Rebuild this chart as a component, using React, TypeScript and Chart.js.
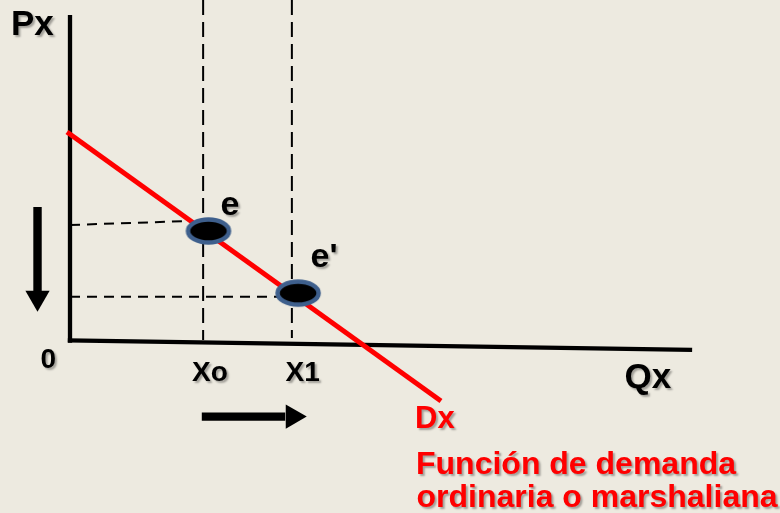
import React, { useEffect, useRef } from "react";
import { Chart, registerables } from "chart.js";

Chart.register(...registerables);

// ---- data (Qx in quantity units, Px in price units) ----
const PX_AXIS_Q = [0, 0];
const PX_AXIS_P = [14.13, -0.12];
const QX_AXIS_Q = [-0.05, 14.02];
const QX_AXIS_P = [-0.02, -0.43];

const DEMAND_Q = [-0.068, 8.36];
const DEMAND_P = [9.04, -2.65];

const Q_TICKS = [3, 5]; // Xo, X1
const Q_TICK_TOP = 14.78;
const Q_TICK_BOTTOM = [0, 0.09];

const E_GUIDE_Q = [0, 2.66];
const E_GUIDE_P = [5.0, 5.17];
const E1_GUIDE_Q = [0, 4.69];
const E1_GUIDE_P = [1.88, 1.88];

const EQ_Q = [3.12, 5.14]; // e, e'
const EQ_P = [4.74, 2.04];

const DOWN_ARROW_Q = -0.732;
const DOWN_ARROW_P = [5.78, 2.1];
const DOWN_HEAD_P = 1.84;
const RIGHT_ARROW_P = -3.33;
const RIGHT_ARROW_Q = [2.97, 4.85];
const RIGHT_HEAD_Q = 5.02;

const AXIS_TITLES = ["Px", "Qx"];
const Q_TICK_LABELS = ["0", "Xo", "X1"];
const POINT_LABELS = ["e", "e'"];
const CURVE_LABELS = ["Dx", "Función de demanda", "ordinaria o marshaliana"];

const BG = "#EDEAE0";
const FONT = "'Liberation Sans', Arial, sans-serif";

function makeEllipse(): HTMLCanvasElement {
  const c = document.createElement("canvas");
  c.width = 50;
  c.height = 32;
  const g = c.getContext("2d")!;
  g.beginPath();
  g.ellipse(25, 16, 20.5, 11.5, 0, 0, Math.PI * 2);
  g.fillStyle = "#000000";
  g.fill();
  g.lineWidth = 4.5;
  g.strokeStyle = "#3E5F8C";
  g.stroke();
  return c;
}

const pts = (qs: number[], ps: number[]) => qs.map((q, i) => ({ x: q, y: ps[i] }));

export default function App() {
  const ref = useRef<HTMLCanvasElement>(null);

  useEffect(() => {
    document.body.style.margin = "0";
    const ellipse = makeEllipse();

    const line = (data: any[], color: string, width: number, dash: number[] = [], order = 5) => ({
      type: "scatter" as const,
      data,
      showLine: true,
      borderColor: color,
      borderWidth: width,
      borderDash: dash,
      borderCapStyle: "butt" as const,
      pointRadius: 0,
      pointHoverRadius: 0,
      fill: false,
      order,
      clip: false as any,
    });

    const textPlugin = {
      id: "texts",
      beforeDraw(chart: any) {
        const ctx = chart.ctx;
        ctx.save();
        ctx.fillStyle = BG;
        ctx.fillRect(0, 0, chart.width, chart.height);
        ctx.restore();
      },
      afterDatasetsDraw(chart: any) {
        const ctx = chart.ctx;
        const draw = (t: string, x: number, y: number, size: number, color: string) => {
          ctx.save();
          ctx.font = `bold ${size}px ${FONT}`;
          ctx.fillStyle = color;
          ctx.textAlign = "left";
          ctx.textBaseline = "alphabetic";
          ctx.shadowColor = "rgba(0,0,0,0.32)";
          ctx.shadowOffsetX = 2;
          ctx.shadowOffsetY = 2;
          ctx.shadowBlur = 2;
          ctx.fillText(t, x, y);
          ctx.restore();
        };
        draw(AXIS_TITLES[0], 11, 35, 35, "#000");
        draw(AXIS_TITLES[1], 624.5, 388, 35, "#000");
        draw(Q_TICK_LABELS[0], 40.5, 368.3, 28, "#000");
        draw(Q_TICK_LABELS[1], 192, 380.7, 28, "#000");
        draw(Q_TICK_LABELS[2], 285.5, 380.7, 28, "#000");
        draw(POINT_LABELS[0], 220.5, 215, 34, "#000");
        draw(POINT_LABELS[1], 310.5, 267, 34, "#000");
        draw(CURVE_LABELS[0], 415, 427.5, 31, "#FF0000");
        draw(CURVE_LABELS[1], 416, 473.5, 32, "#FF0000");
        draw(CURVE_LABELS[2], 416.5, 506.5, 32, "#FF0000");
      },
    };

    const datasets: any[] = [
      // dashed guides
      line([{ x: Q_TICKS[0], y: Q_TICK_TOP }, { x: Q_TICKS[0], y: Q_TICK_BOTTOM[0] }], "#000", 2, [15, 7], 9),
      line([{ x: Q_TICKS[1], y: Q_TICK_TOP }, { x: Q_TICKS[1], y: Q_TICK_BOTTOM[1] }], "#000", 2, [15, 7], 9),
      line(pts(E_GUIDE_Q, E_GUIDE_P), "#000", 2, [10, 7], 9),
      line(pts(E1_GUIDE_Q, E1_GUIDE_P), "#000", 2, [10, 7], 9),
      // axes
      line(pts(PX_AXIS_Q, PX_AXIS_P), "#000", 4.3, [], 8),
      line(pts(QX_AXIS_Q, QX_AXIS_P), "#000", 4.3, [], 8),
      // demand curve
      line(pts(DEMAND_Q, DEMAND_P), "#FF0000", 5, [], 4),
      // arrows
      line([{ x: DOWN_ARROW_Q, y: DOWN_ARROW_P[0] }, { x: DOWN_ARROW_Q, y: DOWN_ARROW_P[1] }], "#000", 8.4, [], 3),
      line([{ x: RIGHT_ARROW_Q[0], y: RIGHT_ARROW_P }, { x: RIGHT_ARROW_Q[1], y: RIGHT_ARROW_P }], "#000", 8.4, [], 3),
      {
        type: "scatter",
        data: [{ x: DOWN_ARROW_Q, y: DOWN_HEAD_P }],
        pointStyle: "triangle",
        pointRadius: 14,
        pointRotation: 180,
        pointBackgroundColor: "#000",
        pointBorderWidth: 0,
        pointBorderColor: "#000",
        order: 2,
        clip: false,
      },
      {
        type: "scatter",
        data: [{ x: RIGHT_HEAD_Q, y: RIGHT_ARROW_P }],
        pointStyle: "triangle",
        pointRadius: 14,
        pointRotation: 90,
        pointBackgroundColor: "#000",
        pointBorderWidth: 0,
        pointBorderColor: "#000",
        order: 2,
        clip: false,
      },
      // equilibrium points
      {
        type: "scatter",
        data: pts(EQ_Q, EQ_P),
        pointStyle: ellipse,
        pointRadius: 16,
        order: 1,
        clip: false,
      },
    ];

    const chart = new Chart(ref.current!, {
      type: "scatter",
      data: { datasets },
      options: {
        animation: false,
        responsive: false,
        maintainAspectRatio: false,
        layout: { padding: 0, autoPadding: false },
        events: [],
        plugins: { legend: { display: false }, tooltip: { enabled: false } },
        scales: {
          x: { type: "linear", min: -1.5775, max: 16, display: false },
          y: { type: "linear", min: -7.52, max: 14.78, display: false },
        },
      },
      plugins: [textPlugin],
    });
    return () => chart.destroy();
  }, []);

  return (
    <div style={{ position: "fixed", left: 0, top: 0, width: 780, height: 513, background: BG }}>
      <canvas ref={ref} width={780} height={513} style={{ display: "block" }} />
    </div>
  );
}
